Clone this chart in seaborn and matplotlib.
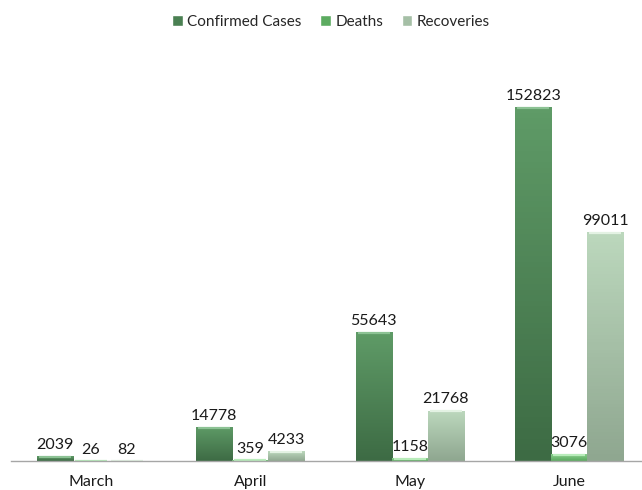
import numpy as np
import pandas as pd
import seaborn as sns
import matplotlib.pyplot as plt
from matplotlib.colors import LinearSegmentedColormap

months = ["March", "April", "May", "June"]
series = ["Confirmed Cases", "Deaths", "Recoveries"]
confirmed = [2039, 14778, 55643, 152823]
deaths = [26, 359, 1158, 3076]
recoveries = [82, 4233, 21768, 99011]

df = pd.DataFrame({
    "Month": months * 3,
    "Series": [s for s in series for _ in months],
    "Value": confirmed + deaths + recoveries,
})

sns.set_theme(style="white")
plt.rcParams['font.family'] = ['Lato', 'DejaVu Sans']

fig = plt.figure(figsize=(6.42, 4.9), dpi=100)
ax = fig.add_axes([11 / 642, 29 / 490, 638 / 642, 405 / 490])

palette = {"Confirmed Cases": "#4a8052", "Deaths": "#5cab60", "Recoveries": "#a5bfa6"}
grad = {
    "Confirmed Cases": ("#5f9b67", "#3d6b44"),
    "Deaths": ("#8fd493", "#5aa95e"),
    "Recoveries": ("#bcd8bd", "#8fa790"),
}
edge = {"Confirmed Cases": "#3a6440", "Deaths": "#4f9a53", "Recoveries": "#849b85"}
topc = {"Confirmed Cases": "#8cc294", "Deaths": "#b8ecba", "Recoveries": "#e3f2e3"}

sns.barplot(data=df, x="Month", y="Value", hue="Series", order=months,
            hue_order=series, palette=palette, width=0.68, saturation=1,
            ax=ax, legend=True)

for cont, s in zip(ax.containers, series):
    cmap = LinearSegmentedColormap.from_list(s, [grad[s][1], grad[s][0]])
    for p in cont:
        x, y = p.get_x(), p.get_y()
        w, h = p.get_width(), p.get_height()
        p.set_edgecolor(edge[s])
        p.set_linewidth(0.6)
        if h <= 0:
            continue
        arr = np.linspace(0, 1, 64).reshape(-1, 1)
        im = ax.imshow(arr, extent=[x, x + w, y, y + h], origin='lower',
                       aspect='auto', cmap=cmap, zorder=p.get_zorder() + 0.1)
        im.set_clip_path(p)
        hh = min(h, 900)
        ax.plot([x + w * 0.06, x + w * 0.94], [y + h - hh * 0.35] * 2,
                color=topc[s], lw=1.6, solid_capstyle='butt',
                zorder=p.get_zorder() + 0.2)
    ax.bar_label(cont, labels=[str(int(v)) for v in cont.datavalues],
                 padding=3, fontsize=11.5, color="#1a1a1a")

ax.set_xlim(-0.5, 3.5)
ax.set_ylim(0, 175000)
ax.set_xlabel("")
ax.set_ylabel("")
ax.set_yticks([])
ax.tick_params(axis='x', length=0, pad=10, labelsize=11.5, labelcolor="#1a1a1a")
for side in ["top", "left", "right"]:
    ax.spines[side].set_visible(False)
ax.spines["bottom"].set_color("#a6a6a6")
ax.spines["bottom"].set_linewidth(1)

handles, labels = ax.get_legend_handles_labels()
ax.legend(handles, labels, loc='center', bbox_to_anchor=(331 / 642, 1 - 22 / 490),
          bbox_transform=fig.transFigure, ncol=3, frameon=False,
          handlelength=0.7, handleheight=0.7, handletextpad=0.3,
          columnspacing=1.2, fontsize=11)

fig.savefig("out.png", dpi=100)
